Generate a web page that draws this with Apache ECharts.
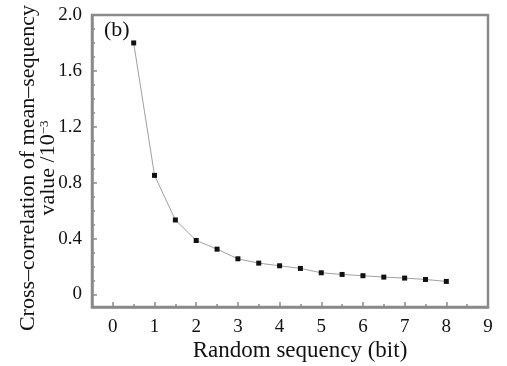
<!DOCTYPE html>
<html><head><meta charset="utf-8">
<script src="https://cdn.jsdelivr.net/npm/echarts@6/dist/echarts.min.js"></script>
<style>html,body{margin:0;padding:0;background:#fff}#c{width:507px;height:366px}</style>
</head><body><div id="c"></div>
<script>
const xValues = [0.5, 1, 1.5, 2, 2.5, 3, 3.5, 4, 4.5, 5, 5.5, 6, 6.5, 7, 7.5, 8];
const yValues = [1.80, 0.852, 0.533, 0.386, 0.324, 0.255, 0.224, 0.205, 0.186, 0.155, 0.143, 0.134, 0.124, 0.117, 0.107, 0.093];
const xTickLabels = [0, 1, 2, 3, 4, 5, 6, 7, 8, 9];
const xMinorTicks = [0.5, 1.5, 2.5, 3.5, 4.5, 5.5, 6.5, 7.5, 8.5];
const yTickLabels = [0, 0.4, 0.8, 1.2, 1.6, 2.0];
const yMinorTicks = [0.1, 0.2, 0.3, 0.5, 0.6, 0.7, 0.9, 1.0, 1.1, 1.3, 1.4, 1.5, 1.7, 1.8, 1.9];

const FONT = 'Liberation Serif';
const GRAY = '#8a8a8a';
const chart = echarts.init(document.getElementById('c'));
const data = xValues.map((x, i) => [x, yValues[i]]);
chart.setOption({
  animation: false,
  backgroundColor: '#fff',
  grid: { left: 92, right: 19, top: 15, bottom: 59, containLabel: false, outerBoundsMode: 'none', show: true, borderColor: GRAY, borderWidth: 2.5, backgroundColor: 'transparent' },
  graphic: [{ type: 'text', left: 104, top: 19, style: { text: '(b)', font: '22px "Liberation Serif"', fill: '#111' } }],
  xAxis: [
    {
      type: 'value', min: -0.5, max: 9, position: 'bottom',
      name: 'Random sequency (bit)', nameLocation: 'middle', nameGap: 32, nameMoveOverlap: false,
      nameTextStyle: { fontFamily: FONT, fontSize: 23, color: '#111', padding: [0, 0, 0, 20] },
      axisLine: { show: true, onZero: false, lineStyle: { color: GRAY, width: 2.5 } },
      axisTick: { show: true, inside: true, length: 5, customValues: xTickLabels, lineStyle: { color: GRAY, width: 1.5 } },
      axisLabel: { customValues: xTickLabels, fontFamily: FONT, fontSize: 19, color: '#111', margin: 11, formatter: v => String(v) },
      splitLine: { show: false }
    },
    {
      type: 'value', min: -0.5, max: 9, position: 'bottom',
      axisLine: { show: false, onZero: false },
      axisTick: { show: true, inside: true, length: 3, customValues: xMinorTicks, lineStyle: { color: GRAY, width: 1.5 } },
      axisLabel: { show: false },
      splitLine: { show: false }
    }
  ],
  yAxis: [
    {
      type: 'value', min: -0.09, max: 2.0, position: 'left',
      name: '{a|Cross\u2013correlation of mean\u2013sequency}\n{a|value /10}{s|\u22123}',
      nameLocation: 'middle', nameGap: 34, nameRotate: 90, nameMoveOverlap: false,
      nameTextStyle: {
        fontFamily: FONT, fontSize: 22, color: '#111', lineHeight: 20, padding: [0, 14, 0, 0],
        rich: {
          a: { fontFamily: FONT, fontSize: 22, color: '#111', lineHeight: 20 },
          s: { fontFamily: FONT, fontSize: 13, color: '#111', verticalAlign: 'top', lineHeight: 20, padding: [0, 0, 6, 0] }
        }
      },
      axisLine: { show: true, onZero: false, lineStyle: { color: GRAY, width: 2.5 } },
      axisTick: { show: true, inside: true, length: 5, customValues: yTickLabels, lineStyle: { color: GRAY, width: 1.5 } },
      axisLabel: { customValues: yTickLabels, fontFamily: FONT, fontSize: 19, color: '#111', margin: 10, formatter: v => v === 0 ? '0' : v.toFixed(1) },
      splitLine: { show: false }
    },
    {
      type: 'value', min: -0.09, max: 2.0, position: 'left',
      axisLine: { show: false, onZero: false },
      axisTick: { show: true, inside: true, length: 3, customValues: yMinorTicks, lineStyle: { color: GRAY, width: 1.5 } },
      axisLabel: { show: false },
      splitLine: { show: false }
    }
  ],
  series: [{
    type: 'line', data: data, xAxisIndex: 0, yAxisIndex: 0,
    symbol: 'rect', symbolSize: 5,
    lineStyle: { color: '#a0a0a0', width: 1 },
    itemStyle: { color: '#111' }
  }]
});
</script></body></html>
